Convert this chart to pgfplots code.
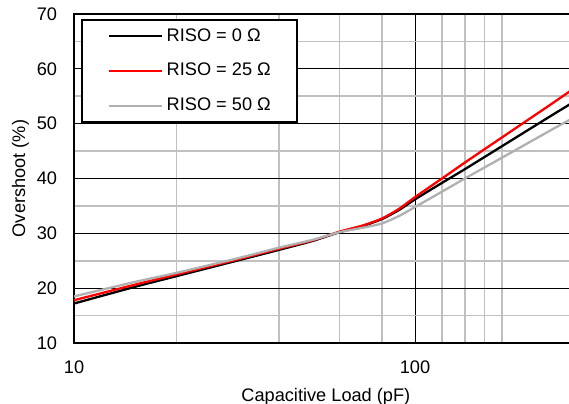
\documentclass[border=0pt]{standalone}
\usepackage{pgfplots}
\pgfplotsset{compat=1.18}
\usepackage{fontspec}
\setmainfont{Liberation Sans}
\definecolor{gridgray}{RGB}{192,192,192}
\definecolor{curvegray}{RGB}{176,176,176}
\begin{document}
\fontsize{18.2bp}{22bp}\selectfont
\begin{tikzpicture}
\begin{semilogxaxis}[
  scale only axis, width=503.7bp, height=329bp,
  xmin=10, xmax=300, ymin=10, ymax=70,
  xtick={10,100}, xticklabels={10,100},
  minor xtick={20,40,60,80,120,140,160,180},
  ytick={10,20,30,40,50,60,70},
  minor ytick={15,25,35,45,55,65},
  grid=both,
  major grid style={black, line width=0.8bp},
  minor grid style={gridgray, line width=1.7bp},
  major tick length=0pt, minor tick length=0pt,
  axis line style={line width=2.5bp},
  /pgf/number format/assume math mode=true,
  xticklabel style={anchor=base, inner sep=0pt, yshift=-30bp},
  yticklabel style={anchor=east, inner sep=0pt, xshift=-16.7bp},
  every axis x label/.style={at={(axis description cs:0.5,0)}, anchor=base, yshift=-58bp, inner sep=0pt},
  every axis y label/.style={at={(axis description cs:0,0.5)}, xshift=-48.8bp, rotate=90, anchor=base, inner sep=0pt},
  xlabel={Capacitive Load (pF)},
  ylabel={Overshoot (\%)},
  legend style={at={(axis description cs:0.0139,0.985)}, anchor=north west,
    draw=black, line width=1.8bp, inner xsep=26bp, inner ysep=8.5bp,
    row sep=19.5bp, column sep=3.5bp, nodes={inner sep=0pt}},
  legend cell align=left,
  legend image code/.code={\draw[#1] (0bp,0bp) -- (53bp,0bp);},
]
\addplot[black, line width=2.3bp, smooth, tension=0.4] coordinates {
 (10,17.2) (15,20.2) (20,22.2) (30,25.0) (40,27.0) (50,28.6) (60,30.2)
 (70,31.3) (80,32.6) (90,34.3) (100,36.2) (120,39.2) (140,41.7) (180,45.9)
 (250,51.4) (300,54.4)};
\addlegendentry{RISO = 0 Ω}
\addplot[red, line width=2.3bp, smooth, tension=0.4] coordinates {
 (10,17.8) (15,20.6) (20,22.5) (30,25.2) (40,27.2) (50,28.7) (60,30.3)
 (70,31.4) (80,32.7) (90,34.5) (100,36.6) (120,40.0) (140,42.9) (180,47.5)
 (250,53.5) (300,56.9)};
\addlegendentry{RISO = 25 Ω}
\addplot[curvegray, line width=2.3bp, smooth, tension=0.4] coordinates {
 (10,18.5) (15,21.1) (20,22.8) (30,25.4) (40,27.4) (50,28.8) (60,30.2)
 (70,31.0) (80,31.8) (90,33.2) (100,34.8) (120,37.6) (140,40.0) (180,43.8)
 (250,48.8) (300,51.5)};
\addlegendentry{RISO = 50 Ω}
\end{semilogxaxis}
\pgfresetboundingbox
\path ([shift={(-74bp,-61bp)}]current axis.south west) rectangle ++(569bp,404bp);
\end{tikzpicture}
\end{document}
